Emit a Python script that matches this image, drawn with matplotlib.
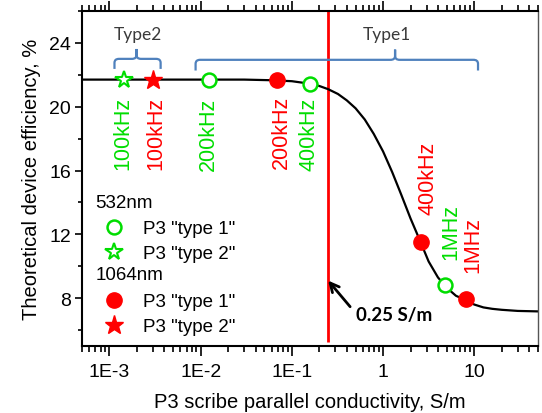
import matplotlib
matplotlib.use('Agg')
import matplotlib.pyplot as plt
from matplotlib.path import Path
from matplotlib.patches import PathPatch
from matplotlib.lines import Line2D
from matplotlib.ticker import LogLocator, MultipleLocator, NullFormatter

plt.rcParams['font.family'] = ['Liberation Sans', 'DejaVu Sans']

GREEN = '#00dd00'
RED = '#ff0000'
BRACE = '#4f81bd'

# simulated efficiency vs. P3 scribe conductivity
curve_x = [5e-4, 1e-3, 3e-3, 1e-2, 3e-2, 0.06, 0.1, 0.15, 0.2, 0.25, 0.32, 0.4,
           0.5, 0.63, 0.79, 1.0, 1.26, 1.58, 2.0, 2.5, 3.16, 4.0, 5.0, 6.3,
           7.9, 10, 12.6, 15.8, 20, 30, 50]
curve_y = [21.7, 21.7, 21.7, 21.7, 21.7, 21.66, 21.6, 21.46, 21.3, 21.1, 20.8, 20.4,
           19.9, 19.2, 18.3, 17.2, 15.9, 14.5, 13.0, 11.7, 10.3, 9.3, 8.65, 8.15,
           7.9, 7.6, 7.42, 7.33, 7.27, 7.2, 7.17]

# measured scribes
green_circle_x = [0.0122, 0.158, 4.75]
green_circle_y = [21.7, 21.45, 8.85]
green_star_x = [0.00143]
green_star_y = [21.7]
red_circle_x = [0.068, 2.6, 8.1]
red_circle_y = [21.65, 11.5, 7.94]
red_star_x = [0.003]
red_star_y = [21.7]

# laser repetition rate labels
freq_text = ['100kHz', '100kHz', '200kHz', '200kHz', '400kHz', '400kHz', '1MHz', '1MHz']
freq_x = [0.00139, 0.0032, 0.0122, 0.077, 0.154, 3.1, 5.6, 9.7]
freq_top = [20.65, 20.65, 20.65, 20.75, 20.65, 17.85, 13.95, 13.15]
freq_color = [GREEN, RED, GREEN, RED, GREEN, RED, GREEN, RED]

threshold = 0.25

xtick_vals = [1e-3, 1e-2, 1e-1, 1, 10]
xtick_labels = ['1E-3', '1E-2', '1E-1', '1', '10']
ytick_vals = [8, 12, 16, 20, 24]


def brace(ax, x0, x1, xm, y, ytip, yend):
    r = 1.12
    dy = 0.25
    verts = [(x0, yend), (x0, y - dy), (x0, y), (x0 * r, y), (xm / r, y), (xm, y),
             (xm, y + dy), (xm, ytip), (xm, y + dy), (xm, y), (xm * r, y),
             (x1 / r, y), (x1, y), (x1, y - dy), (x1, yend)]
    codes = [Path.MOVETO, Path.LINETO, Path.CURVE3, Path.CURVE3, Path.LINETO,
             Path.CURVE3, Path.CURVE3, Path.LINETO, Path.LINETO, Path.CURVE3,
             Path.CURVE3, Path.LINETO, Path.CURVE3, Path.CURVE3, Path.LINETO]
    ax.add_patch(PathPatch(Path(verts, codes), fill=False, edgecolor=BRACE,
                           lw=1.6, transform=ax.transData, clip_on=False))


fig = plt.figure(figsize=(5.42, 4.14), dpi=100)
ax = fig.add_axes([0.1513, 0.1618, 0.8413, 0.8092])

ax.plot(curve_x, curve_y, color='black', lw=1.6, zorder=2)
ax.vlines(threshold, 5.25, 26, color=RED, lw=2, zorder=1)

ax.plot(green_circle_x, green_circle_y, ls='none', marker='o', ms=10,
        mfc='white', mec=GREEN, mew=1.8, zorder=3)
ax.plot(green_star_x, green_star_y, ls='none', marker='*', ms=13,
        mfc='white', mec=GREEN, mew=1.5, zorder=3)
ax.plot(red_circle_x, red_circle_y, ls='none', marker='o', ms=11,
        mfc=RED, mec=RED, zorder=3)
ax.plot(red_star_x, red_star_y, ls='none', marker='*', ms=14,
        mfc=RED, mec=RED, zorder=3)

for t, x, y, c in zip(freq_text, freq_x, freq_top, freq_color):
    ax.text(x, y, t, rotation=90, ha='center', va='top', color=c, fontsize=15.5)

brace(ax, 1.135e-3, 3.64e-3, 1.98e-3, 23.0, 23.62, 22.37)
brace(ax, 8.8e-3, 11.0, 1.355, 22.94, 23.58, 22.27)
ax.text(2.03e-3, 24.55, 'Type2', ha='center', va='center', color='#3a3a3a',
        fontsize=12.5, family='Lato')
ax.text(1.1, 24.55, 'Type1', ha='center', va='center', color='#3a3a3a',
        fontsize=12.5, family='Lato')

ax.annotate('0.25 S/m', xy=(threshold, 9.1), xytext=(0.5, 6.95),
            ha='left', va='center', fontsize=13.5, fontweight='bold', family='Lato',
            arrowprops=dict(arrowstyle='->', lw=2, color='black', relpos=(0, 0.6),
                            shrinkA=3, shrinkB=0, mutation_scale=16))

# legends
h532 = [Line2D([], [], ls='none', marker='o', ms=10, mfc='white', mec=GREEN, mew=1.8),
        Line2D([], [], ls='none', marker='*', ms=13, mfc='white', mec=GREEN, mew=1.5)]
h1064 = [Line2D([], [], ls='none', marker='o', ms=11, mfc=RED, mec=RED),
         Line2D([], [], ls='none', marker='*', ms=14, mfc=RED, mec=RED)]
labels = ['P3 "type 1"', 'P3 "type 2"']
leg_kw = dict(loc='upper left', frameon=False, alignment='left', fontsize=13.5,
              title_fontsize=13.5, handlelength=2.0, handletextpad=0.5,
              borderpad=0, borderaxespad=0, labelspacing=0.42)
leg1 = ax.legend(h532, labels, title='532nm', bbox_to_anchor=(0.03, 0.455), **leg_kw)
leg1._legend_box.sep = 7
ax.add_artist(leg1)
leg2 = ax.legend(h1064, labels, title='1064nm', bbox_to_anchor=(0.03, 0.238), **leg_kw)
leg2._legend_box.sep = 7

ax.set_xscale('log')
ax.set_xlim(5e-4, 50)
ax.set_ylim(5, 26)
ax.set_xticks(xtick_vals, xtick_labels)
ax.xaxis.set_minor_locator(LogLocator(base=10, subs=range(2, 10), numticks=20))
ax.xaxis.set_minor_formatter(NullFormatter())
ax.set_yticks(ytick_vals)
ax.yaxis.set_minor_locator(MultipleLocator(2))

ax.tick_params(axis='x', which='both', direction='out', top=True, labelsize=14, width=1.2)
ax.tick_params(axis='x', which='major', length=7, pad=5)
ax.tick_params(axis='x', which='minor', length=4)
ax.tick_params(axis='y', which='both', direction='out', right=False, labelsize=14, width=1.2)
ax.tick_params(axis='y', which='major', length=5, pad=3)
ax.tick_params(axis='y', which='minor', length=3)

for side in ['left', 'bottom', 'top']:
    ax.spines[side].set_linewidth(1.5)
ax.spines['right'].set_color('#555555')
ax.spines['right'].set_linewidth(1.0)

ax.set_xlabel('P3 scribe parallel conductivity, S/m', fontsize=14.5, labelpad=9)
ax.set_ylabel('Theoretical device efficiency, %', fontsize=14.5, labelpad=6)

fig.savefig('out.png', dpi=100)
